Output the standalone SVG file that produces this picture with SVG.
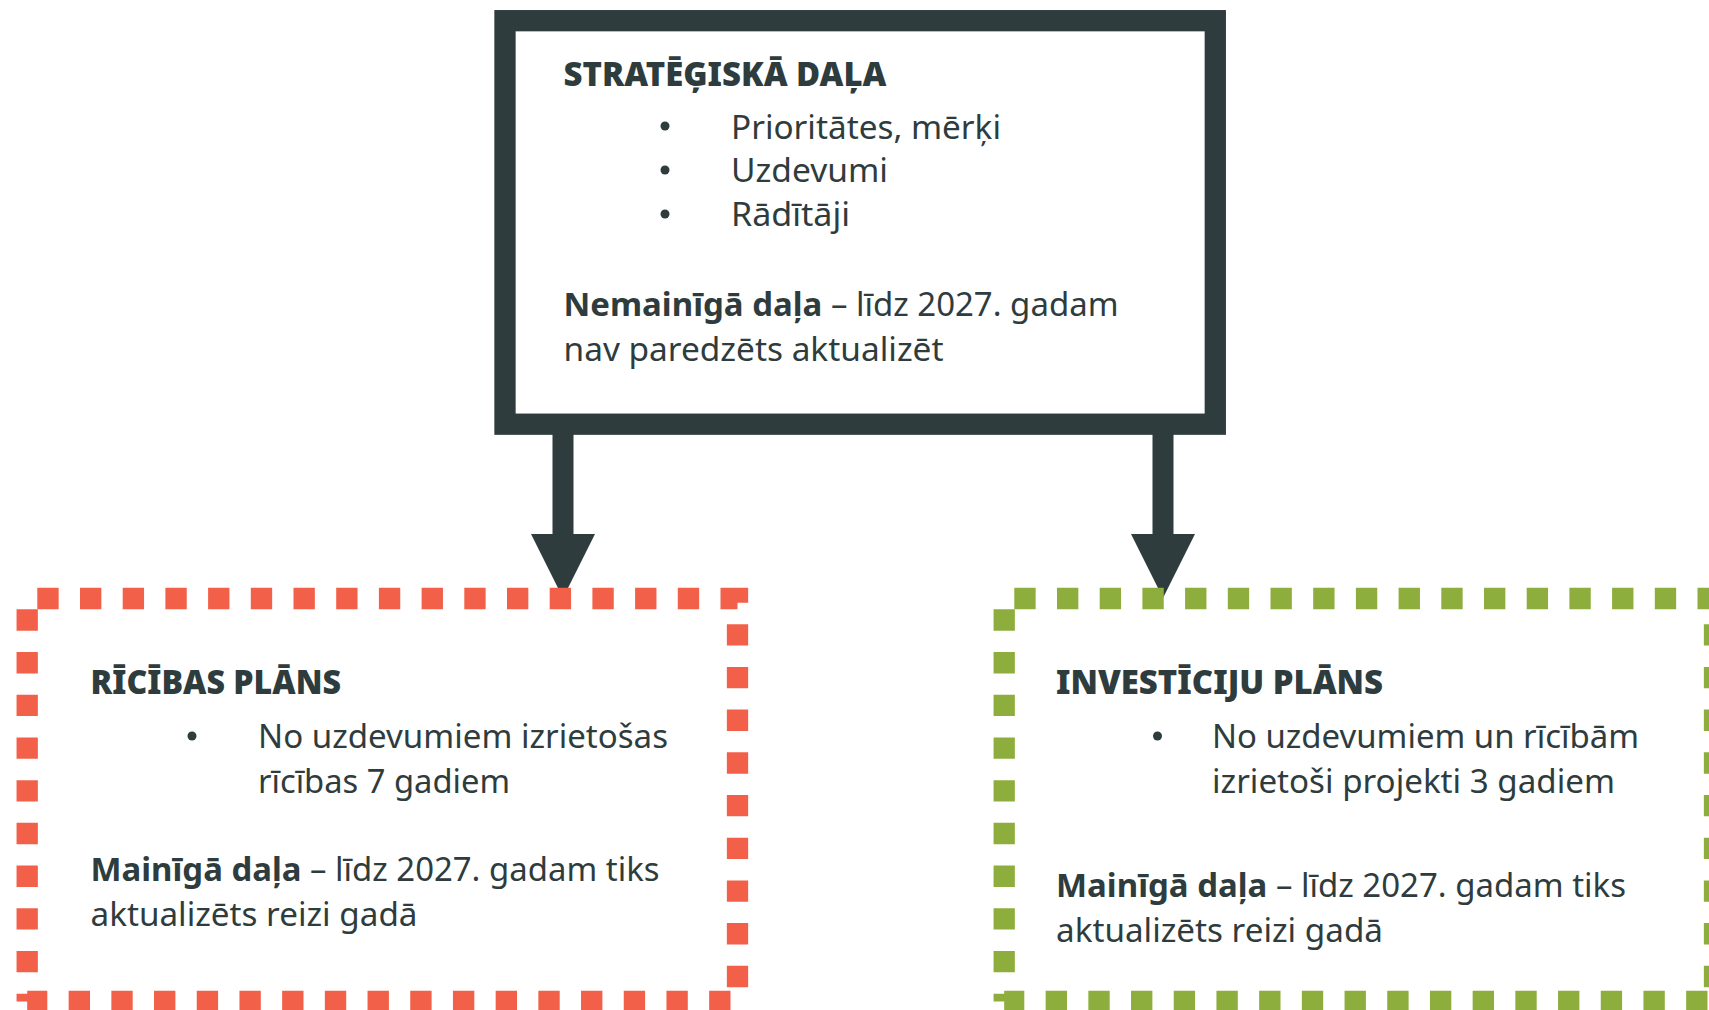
<svg xmlns="http://www.w3.org/2000/svg" width="1709" height="1010" viewBox="0 0 1709 1010">
<style>
.bg{fill:#ffffff}
.main{fill:none;stroke:#2f3c3d;stroke-width:21.3}
.red{fill:none;stroke:#f26049;stroke-width:21.3;stroke-dasharray:21.35 21.35}
.green{fill:none;stroke:#8dae3c;stroke-width:21.3;stroke-dasharray:21.35 21.35}
.arrow{fill:#2f3c3d}
.h{font-family:"Noto Sans","Liberation Sans",sans-serif;font-weight:900;font-size:33px;fill:#2f3c3d}
.t{font-family:"Noto Sans","Liberation Sans",sans-serif;font-weight:400;font-size:33px;fill:#2f3c3d}
.b{font-weight:700}
.dot{fill:#2f3c3d}
</style>
<rect class="bg" x="0" y="0" width="1709" height="1010"/>
<g id="connectors">
<path class="arrow" d="M552.5,424 V534 H531 L563,598 L595,534 H573.5 V424 Z"/>
<path class="arrow" d="M1152.5,424 V534 H1131 L1163,598 L1195,534 H1173.5 V424 Z"/>
</g>
<g id="strategic">
<rect class="main" x="505" y="20.7" width="710.3" height="403.5"/>
<text class="h" x="563.5" y="85.5" textLength="323" lengthAdjust="spacingAndGlyphs">STRATĒĢISKĀ DAĻA</text>
<circle class="dot" cx="665" cy="126" r="4.5"/>
<circle class="dot" cx="665" cy="170" r="4.5"/>
<circle class="dot" cx="665" cy="214" r="4.5"/>
<text class="t" x="731" y="138.6" textLength="270" lengthAdjust="spacingAndGlyphs">Prioritātes, mērķi</text>
<text class="t" x="731" y="182" textLength="157" lengthAdjust="spacingAndGlyphs">Uzdevumi</text>
<text class="t" x="731" y="226" textLength="119" lengthAdjust="spacingAndGlyphs">Rādītāji</text>
<text class="t" x="563.5" y="316" textLength="555" lengthAdjust="spacingAndGlyphs"><tspan class="b">Nemainīgā daļa</tspan> – līdz 2027. gadam</text>
<text class="t" x="563.5" y="361" textLength="380" lengthAdjust="spacingAndGlyphs">nav paredzēts aktualizēt</text>
</g>
<g id="ricibas">
<path class="red" d="M27.2,598.5 H737.5 V1001.5 H27.2" stroke-dashoffset="32.6"/>
<path class="red" d="M27.2,1001.5 V598.5" stroke-dashoffset="13.5"/>
<text class="h" x="90.5" y="693.5" textLength="250.5" lengthAdjust="spacingAndGlyphs">RĪCĪBAS PLĀNS</text>
<circle class="dot" cx="192" cy="736" r="4.5"/>
<text class="t" x="258" y="748" textLength="410" lengthAdjust="spacingAndGlyphs">No uzdevumiem izrietošas</text>
<text class="t" x="258" y="792.6" textLength="252" lengthAdjust="spacingAndGlyphs">rīcības 7 gadiem</text>
<text class="t" x="90.5" y="881" textLength="569" lengthAdjust="spacingAndGlyphs"><tspan class="b">Mainīgā daļa</tspan> – līdz 2027. gadam tiks</text>
<text class="t" x="90.5" y="925.5" textLength="327" lengthAdjust="spacingAndGlyphs">aktualizēts reizi gadā</text>
</g>
<g id="investiciju">
<path class="green" d="M1004.2,598.5 H1714.5 V1001.5 H1004.2" stroke-dashoffset="32.6"/>
<path class="green" d="M1004.2,1001.5 V598.5" stroke-dashoffset="13.5"/>
<text class="h" x="1056" y="693.5" textLength="327" lengthAdjust="spacingAndGlyphs">INVESTĪCIJU PLĀNS</text>
<circle class="dot" cx="1157.5" cy="736" r="4.5"/>
<text class="t" x="1212" y="748" textLength="427" lengthAdjust="spacingAndGlyphs">No uzdevumiem un rīcībām</text>
<text class="t" x="1212" y="792.6" textLength="403" lengthAdjust="spacingAndGlyphs">izrietoši projekti 3 gadiem</text>
<text class="t" x="1056" y="897" textLength="570" lengthAdjust="spacingAndGlyphs"><tspan class="b">Mainīgā daļa</tspan> – līdz 2027. gadam tiks</text>
<text class="t" x="1056" y="942" textLength="327" lengthAdjust="spacingAndGlyphs">aktualizēts reizi gadā</text>
</g>
</svg>
